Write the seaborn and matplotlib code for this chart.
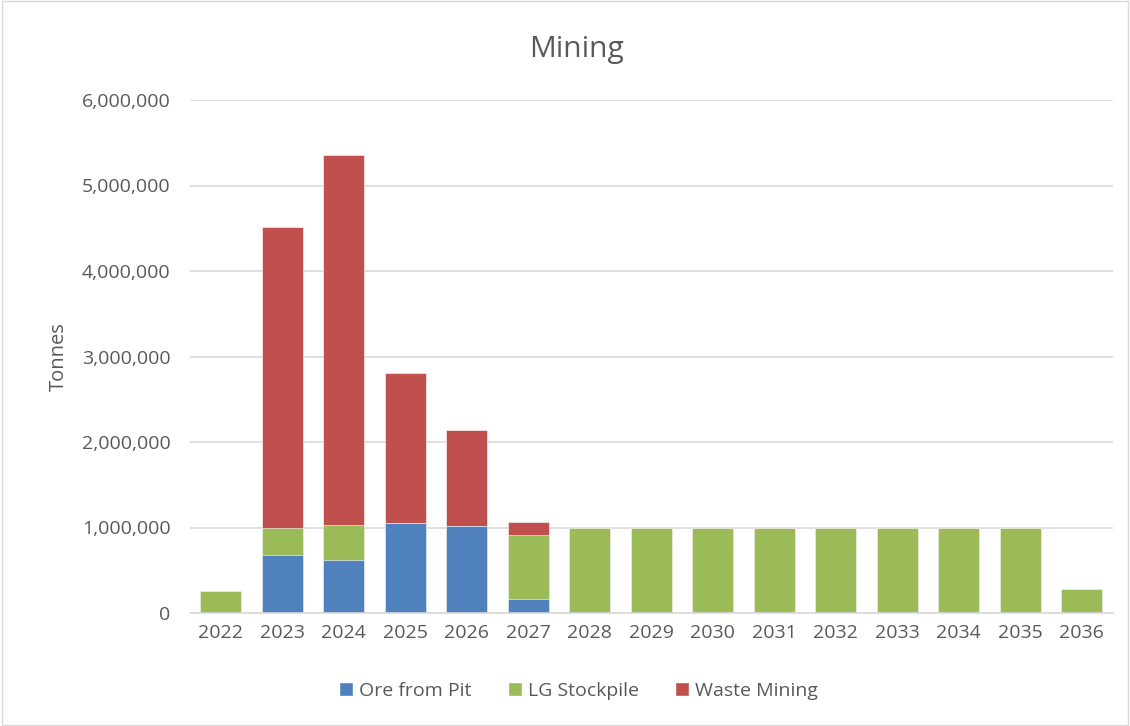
import numpy as np
import pandas as pd
import seaborn as sns
import matplotlib.pyplot as plt
from matplotlib.patches import Patch, Rectangle
from matplotlib.ticker import FuncFormatter

# Values (tonnes)
years = [str(y) for y in range(2022, 2037)]
ore_from_pit = [0, 680000, 620000, 1047000, 1023000, 158000,
                0, 0, 0, 0, 0, 0, 0, 0, 0]
lg_stockpile = [252000, 315000, 407000, 0, 0, 752000,
                1000000, 1000000, 1000000, 1000000, 1000000, 1000000, 1000000, 1000000, 276000]
waste_mining = [0, 3525000, 4335000, 1760000, 1115000, 149000,
                0, 0, 0, 0, 0, 0, 0, 0, 0]

df = pd.DataFrame({"Year": years, "Ore from Pit": ore_from_pit,
                   "LG Stockpile": lg_stockpile, "Waste Mining": waste_mining})
df["ore_top"] = df["Ore from Pit"]
df["lg_top"] = df["ore_top"] + df["LG Stockpile"]
df["total"] = df["lg_top"] + df["Waste Mining"]

blue, green, red = "#4F81BD", "#9BBB59", "#C0504D"
grey_text = "#595959"

sns.set_theme(style="white")
plt.rcParams["font.family"] = ["Open Sans", "DejaVu Sans"]

fig = plt.figure(figsize=(11.3, 7.26), dpi=100)
ax = fig.add_axes([190 / 1130, 1 - 613 / 726, 922.5 / 1130, 513 / 726])

# stacked bars drawn as overlapping cumulative totals
sns.barplot(data=df, x="Year", y="total", color=red, width=0.667, ax=ax,
            saturation=1, edgecolor="white", linewidth=0.4)
sns.barplot(data=df, x="Year", y="lg_top", color=green, width=0.667, ax=ax,
            saturation=1, edgecolor="white", linewidth=0.4)
sns.barplot(data=df, x="Year", y="ore_top", color=blue, width=0.667, ax=ax,
            saturation=1, edgecolor="white", linewidth=0.4)

ax.set_xlim(-0.5, 14.5)
ax.set_ylim(0, 6000000)
ax.set_yticks(np.arange(0, 6000001, 1000000))
ax.yaxis.set_major_formatter(FuncFormatter(lambda v, p: f"{int(v):,}"))
ax.grid(axis="y", color="#d9d9d9", linewidth=1.2)
ax.set_axisbelow(True)
for s in ["top", "right", "left"]:
    ax.spines[s].set_visible(False)
ax.spines["bottom"].set_color("#d9d9d9")
ax.spines["bottom"].set_linewidth(1.2)
ax.tick_params(axis="both", length=0, labelsize=14, colors=grey_text, pad=8)
ax.tick_params(axis="y", pad=14)
ax.set_xlabel("")
ax.set_ylabel("Tonnes", fontsize=14.5, color=grey_text, labelpad=9)

fig.text(0.51, 1 - 50 / 726, "Mining", ha="center", va="center",
         fontsize=21.5, color=grey_text)

handles = [Patch(facecolor=blue), Patch(facecolor=green), Patch(facecolor=red)]
fig.legend(handles, ["Ore from Pit", "LG Stockpile", "Waste Mining"],
           loc="center", bbox_to_anchor=(0.512, 1 - 691 / 726), ncol=3,
           frameon=False, fontsize=14, handlelength=0.7, handleheight=0.7,
           handletextpad=0.3, columnspacing=1.9, labelcolor=grey_text)

fig.patches.append(Rectangle((0.002, 0.002), 0.996, 0.996, transform=fig.transFigure,
                             fill=False, edgecolor="#d9d9d9", linewidth=1))

fig.savefig("out.png", dpi=100)
